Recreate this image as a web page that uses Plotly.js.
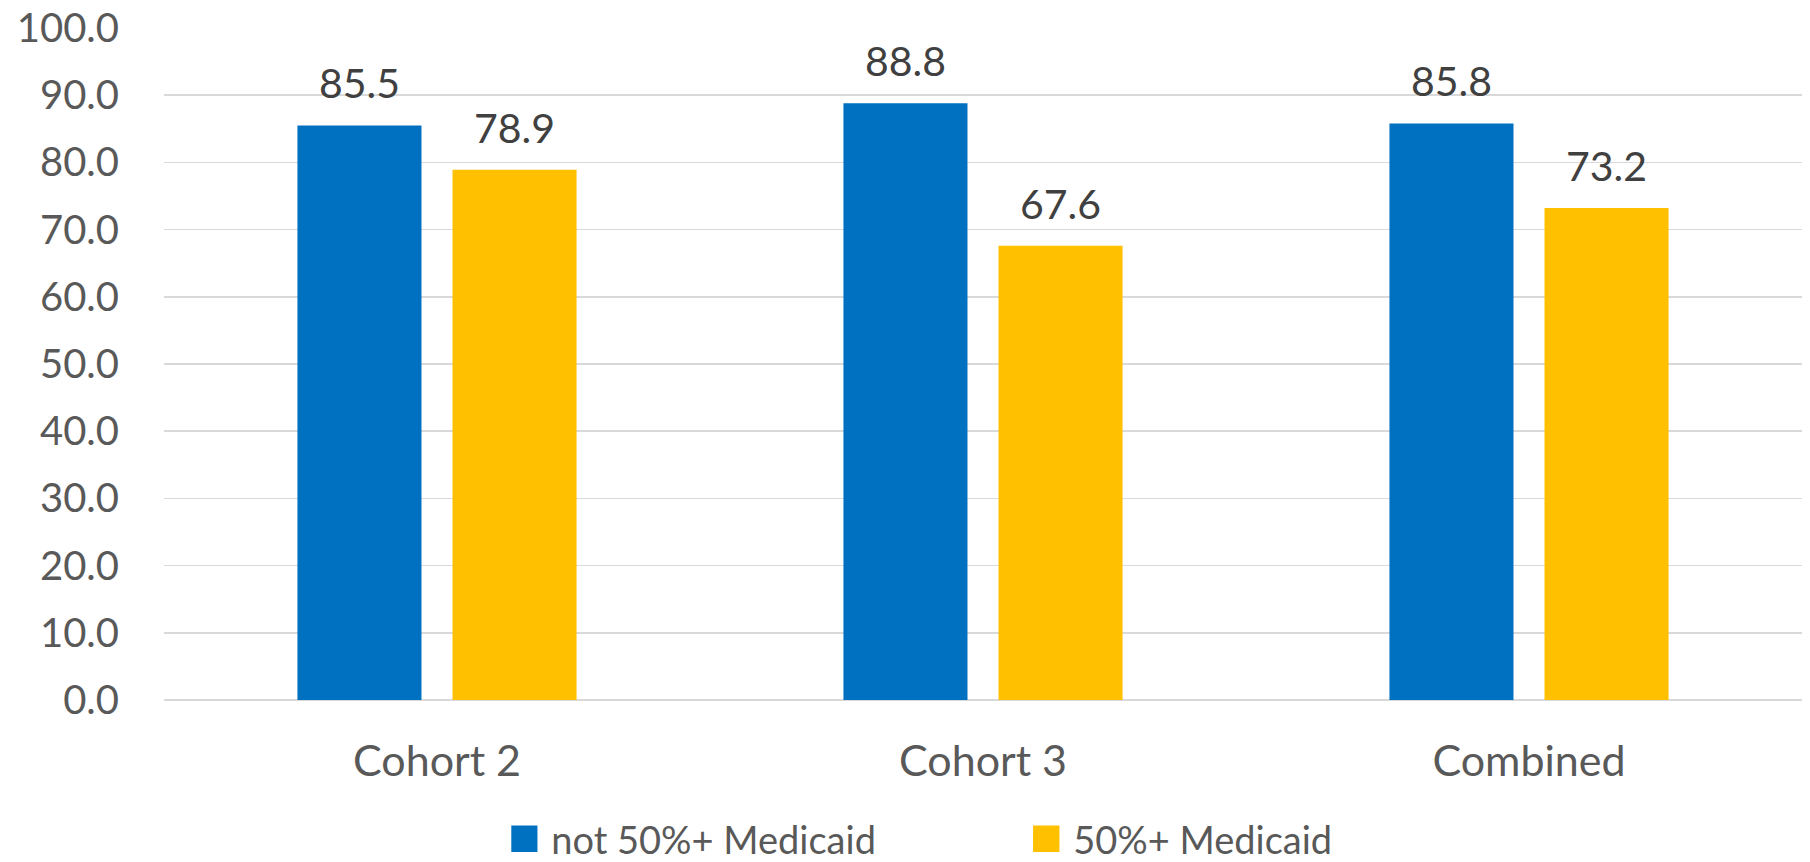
<!DOCTYPE html>
<html>
<head>
<meta charset="utf-8">
<script src="https://cdn.plot.ly/plotly-3.0.1.min.js"></script>
<style>
  html, body { margin: 0; padding: 0; background: #ffffff; }
  #chart { width: 1810px; height: 862px; }
  /* larger legend swatches, placed close to their labels */
  #chart .legend .legendpoints path { transform: translate(13px, 0px) scale(2.2); }
</style>
</head>
<body>
<div id="chart"></div>
<script>
// Categories and series values
const categories = ["Cohort 2", "Cohort 3", "Combined"];
const seriesNames = ["not 50%+ Medicaid", "50%+ Medicaid"];
const notMedicaid = [85.5, 88.8, 85.8];
const medicaid = [78.9, 67.6, 73.2];
const yTickValues = [0, 10, 20, 30, 40, 50, 60, 70, 80, 90, 100];

const colors = ["#0070C0", "#FFC000"];
const FONT = "Lato, 'Open Sans', sans-serif";

const traces = [notMedicaid, medicaid].map((vals, i) => ({
  type: "bar",
  name: seriesNames[i],
  x: categories,
  y: vals,
  marker: { color: colors[i], line: { width: 0 } },
  hoverinfo: "x+y"
}));

// Value labels above each bar, offset to the bar's slot within its group
const BARGAP = 0.432;
const PLOT_W = 1810 - 164 - 8;
const slotPx = PLOT_W / categories.length * (1 - BARGAP) / 2;
const annotations = [];
[notMedicaid, medicaid].forEach((vals, i) => {
  vals.forEach((v, j) => {
    annotations.push({
      x: categories[j], y: v, xref: "x", yref: "y",
      text: v.toFixed(1),
      showarrow: false,
      xanchor: "center", yanchor: "bottom",
      xshift: (i === 0 ? -1 : 1) * slotPx / 2,
      yshift: 16,
      font: { family: FONT, size: 41, color: "#404040" }
    });
  });
});

const layout = {
  width: 1810, height: 862,
  margin: { l: 164, r: 8, t: 28, b: 162, autoexpand: false },
  paper_bgcolor: "#ffffff",
  plot_bgcolor: "#ffffff",
  barmode: "group",
  bargap: BARGAP,
  bargroupgap: 0.2,
  font: { family: FONT, color: "#595959" },
  xaxis: {
    type: "category",
    showgrid: false,
    showline: false,
    zeroline: false,
    ticks: "",
    ticklabelstandoff: 32,
    tickfont: { family: FONT, size: 43, color: "#595959" }
  },
  yaxis: {
    range: [0, 100],
    tickvals: yTickValues,
    tickformat: ".1f",
    showgrid: true,
    gridcolor: "#d9d9d9",
    gridwidth: 1.5,
    zeroline: true,
    zerolinecolor: "#d9d9d9",
    zerolinewidth: 1.5,
    showline: false,
    ticks: "",
    ticklabelstandoff: 44,
    tickfont: { family: FONT, size: 40, color: "#595959" }
  },
  showlegend: true,
  legend: {
    orientation: "h",
    x: 0.212, xanchor: "left",
    y: -0.207, yanchor: "middle",
    font: { family: FONT, size: 38, color: "#595959" },
    itemwidth: 30,
    entrywidth: 477,
    traceorder: "normal"
  },
  annotations: annotations
};

Plotly.newPlot("chart", traces, layout, { displayModeBar: false, staticPlot: true });
</script>
</body>
</html>
